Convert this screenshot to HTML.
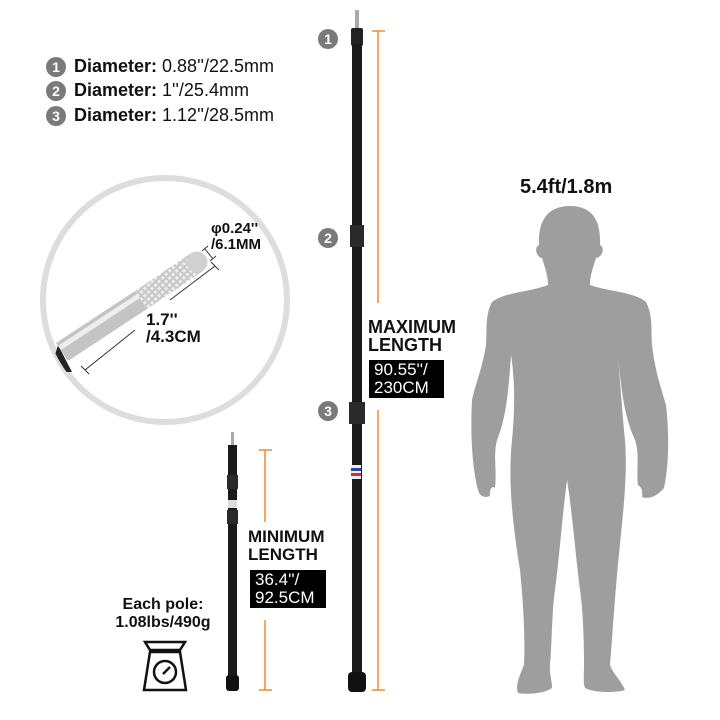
<!DOCTYPE html>
<html><head><style>
body{margin:0;width:720px;height:720px;background:#fff;position:relative;overflow:hidden;font-family:"Liberation Sans",Arial,sans-serif;color:#111}
.t{position:absolute;white-space:nowrap}
.n{position:absolute;width:20px;height:20px;border-radius:50%;background:#7a7a7a;color:#fff;font-weight:bold;font-size:14px;text-align:center;line-height:20px}
.box{position:absolute;background:#000;color:#fff;font-size:17px;line-height:18px;padding:1px 5px}
</style></head><body>
<div class="n" style="left:46px;top:57px">1</div>
<div class="n" style="left:46px;top:81px">2</div>
<div class="n" style="left:46px;top:106px">3</div>
<div class="t" style="left:74px;top:56px;font-size:18px"><b>Diameter:</b> 0.88''/22.5mm</div>
<div class="t" style="left:74px;top:80px;font-size:18px"><b>Diameter:</b> 1''/25.4mm</div>
<div class="t" style="left:74px;top:105px;font-size:18px"><b>Diameter:</b> 1.12''/28.5mm</div>
<div class="n" style="left:318px;top:29px">1</div>
<div class="n" style="left:318px;top:228px">2</div>
<div class="n" style="left:318px;top:401px">3</div>
<svg width="720" height="720" style="position:absolute;left:0;top:0">
<defs>
<pattern id="kn" width="5" height="5" patternUnits="userSpaceOnUse" patternTransform="rotate(45)">
<rect width="5" height="5" fill="#c8c8c8"/><rect width="3" height="3" fill="#eee"/>
</pattern>
<clipPath id="cc"><circle cx="165" cy="300" r="122"/></clipPath>
</defs>
<circle cx="165" cy="300" r="122" fill="#fff" stroke="#ddd" stroke-width="6"/>
<g clip-path="url(#cc)">
<path d="M58 345 L72 372 L50 372 Z" fill="#222"/>
<polygon points="56,343 135,291 147,309 68,361" fill="#c4c4c4"/>
<polygon points="58,346 137,294 140,298 61,350" fill="#eee"/>
<polygon points="135,291 191,253 203,271 147,309" fill="url(#kn)"/>
<circle cx="197" cy="262" r="10.5" fill="#d0d0d0"/>
</g>
<g stroke="#333" stroke-width="1">
<line x1="85" y1="370" x2="135" y2="330"/><line x1="170" y1="300" x2="215" y2="266"/>
<line x1="81" y1="366" x2="89" y2="374"/><line x1="211" y1="262" x2="219" y2="270"/>
<line x1="205" y1="249" x2="213" y2="259"/><line x1="202" y1="251" x2="208" y2="246"/><line x1="210" y1="261" x2="216" y2="256"/>
</g>
<rect x="355" y="10" width="4" height="20" fill="#aaa"/>
<rect x="351" y="28" width="12" height="18" rx="2" fill="#222"/>
<rect x="352" y="44" width="10" height="640" fill="#1a1a1a"/>
<rect x="350" y="225" width="14" height="22" fill="#2a2a2a"/>
<rect x="349" y="402" width="16" height="22" fill="#2a2a2a"/>
<rect x="351" y="465" width="10" height="14" fill="#eee"/><rect x="351" y="468" width="10" height="3" fill="#34a"/><rect x="351" y="473" width="10" height="3" fill="#c33"/>
<rect x="348" y="672" width="18" height="20" rx="4" fill="#111"/>
<rect x="231" y="432" width="3" height="14" fill="#aaa"/>
<rect x="228" y="445" width="9" height="244" fill="#1a1a1a"/>
<rect x="227" y="475" width="11" height="14" fill="#2a2a2a"/>
<rect x="227" y="510" width="11" height="14" fill="#2a2a2a"/>
<rect x="228" y="500" width="9" height="8" fill="#ddd"/>
<rect x="226" y="675" width="13" height="16" rx="3" fill="#111"/>
<g stroke="#f08a2a" stroke-width="1.5">
<line x1="378" y1="31" x2="378" y2="303"/><line x1="372" y1="31" x2="385" y2="31"/>
<line x1="378" y1="410" x2="378" y2="690"/><line x1="372" y1="690" x2="385" y2="690"/>
<line x1="265" y1="450" x2="265" y2="522"/><line x1="259" y1="450" x2="272" y2="450"/>
<line x1="265" y1="620" x2="265" y2="690"/><line x1="259" y1="690" x2="272" y2="690"/>
</g>
<g fill="none" stroke="#111" stroke-width="2.5">
<path d="M145 642 L185 642 L180 650 L150 650 Z"/>
<path d="M150 652 L180 652 L186 690 L144 690 Z"/>
<circle cx="165" cy="672" r="11"/>
<line x1="163" y1="674" x2="170" y2="667"/>
</g>
<path fill="#9e9e9e" d="M570,206 C548,206 538,220 539,245 C534,247 536,257 542,258 C545,268 548,275 548,285 C530,292 505,292 492,302 C485,315 487,330 486,345 C482,370 475,385 472,400 C470,440 473,470 478,490 C480,497 485,498 490,496 C489,490 492,485 495,488 C497,470 493,455 497,440 C505,420 508,400 511,355 C515,380 515,410 512,440 C508,480 512,520 520,570 C524,610 525,640 524,665 C520,675 515,685 518,693 C530,695 545,693 552,688 C552,680 549,672 550,665 C552,640 552,610 555,590 C560,550 563,510 567,480 C572,510 575,550 580,590 C583,610 584,640 584,665 C584,675 583,683 585,688 C595,693 615,693 625,690 C622,682 612,672 610,665 C612,640 614,610 617,575 C622,520 628,480 625,440 C622,410 620,380 618,355 C622,400 626,420 635,440 C640,455 636,470 638,485 C641,487 643,490 642,497 C650,500 658,495 664,488 C668,470 670,440 666,405 C660,385 655,370 652,345 C651,330 653,315 646,302 C635,292 610,292 590,285 C590,275 593,268 596,258 C603,257 605,247 600,245 C601,220 592,206 570,206 Z"/>
</svg>
<div class="t" style="left:211px;top:221px;font-size:15px;font-weight:bold;line-height:16px">φ0.24''<br>/6.1MM</div>
<div class="t" style="left:146px;top:311px;font-size:17px;font-weight:bold;line-height:17px">1.7''<br>/4.3CM</div>
<div class="t" style="left:368px;top:318px;font-size:18px;font-weight:bold;line-height:18px">MAXIMUM<br>LENGTH</div>
<div class="box" style="left:369px;top:360px;width:65px">90.55''/<br>230CM</div>
<div class="t" style="left:248px;top:528px;font-size:17px;font-weight:bold;line-height:18px">MINIMUM<br>LENGTH</div>
<div class="box" style="left:250px;top:570px;width:66px">36.4''/<br>92.5CM</div>
<div class="t" style="left:113px;top:596px;width:100px;font-size:16px;font-weight:bold;line-height:18px;text-align:center">Each pole:<br>1.08lbs/490g</div>
<div class="t" style="left:520px;top:176px;font-size:20px;font-weight:bold">5.4ft/1.8m</div>
</body></html>
